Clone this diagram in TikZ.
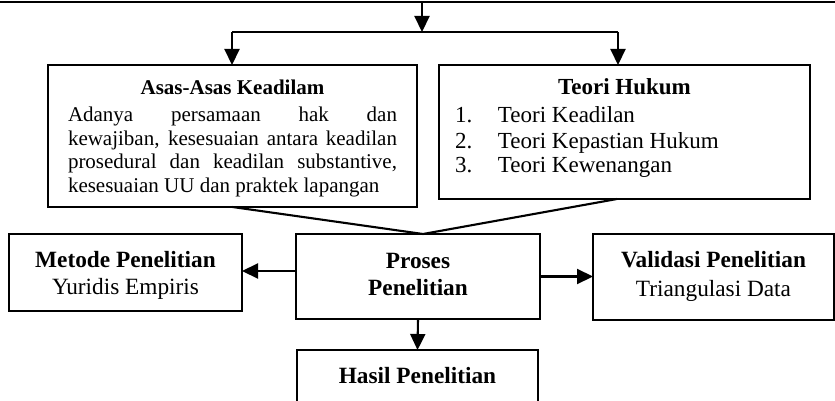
\documentclass[tikz,border=0pt]{standalone}
\usepackage{fontspec}
\setmainfont{Liberation Serif}
\usetikzlibrary{arrows.meta}
\tikzset{
  box/.style={draw, line width=2.1pt, inner sep=0pt, outer sep=0pt, fill=none},
  txt/.style={inner sep=0pt, outer sep=0pt, anchor=base},
  conn/.style={line width=2.1pt},
  arr/.style={line width=2.1pt, -{Triangle[width=15pt,length=16pt]}},
  fa/.style={font=\fontsize{21}{23.5}\selectfont},
  fb/.style={font=\fontsize{23}{25}\selectfont},
  fc/.style={font=\fontsize{23.3}{27}\selectfont}
}
\begin{document}
\begin{tikzpicture}[x=1pt,y=-1pt]
\useasboundingbox (0,0) rectangle (835,401);
\clip (0,0) rectangle (835,401);

% boxes
\node[box, minimum width=369pt, minimum height=142pt] (asas) at (232.5,136) {};
\node[box, minimum width=371pt, minimum height=134pt] (teori) at (624.5,132) {};
\node[box, minimum width=233pt, minimum height=77pt] (metode) at (125.5,272.5) {};
\node[box, minimum width=244pt, minimum height=85pt] (proses) at (418,276.5) {};
\node[box, minimum width=241pt, minimum height=86pt] (validasi) at (713.5,277) {};
\node[box, minimum width=241pt, minimum height=90pt] (hasil) at (417.5,395) {};

% texts
\node[txt, fa] (asasT) at (232.5,95) {\bfseries Asas-Asas Keadilam};
\node[txt, fa, anchor=base west] (asasB) at (68,122) {\parbox[t]{329pt}{%
\makebox[329pt][s]{Adanya persamaan hak dan}\\
\makebox[329pt][s]{kewajiban, kesesuaian antara keadilan}\\
\makebox[329pt][s]{prosedural dan keadilan substantive,}\\
kesesuaian UU dan praktek lapangan}};

\node[txt, fb] (teoriT) at (624.5,95) {\bfseries Teori Hukum};
\node[txt, fb, anchor=base west] (teoriB) at (455,123) {\parbox[t]{330pt}{%
\makebox[43pt][l]{1.}Teori Keadilan\\
\makebox[43pt][l]{2.}Teori Kepastian Hukum\\
\makebox[43pt][l]{3.}Teori Kewenangan}};

\node[txt, fc] (metodeT) at (125.5,267) {\bfseries Metode Penelitian};
\node[txt, fc] (metodeS) at (125.5,294) {Yuridis Empiris};

\node[txt, fc] (prosesT) at (418,268) {\bfseries Proses};
\node[txt, fc] (prosesS) at (418,295) {\bfseries Penelitian};

\node[txt, fc] (validasiT) at (713.5,267) {\bfseries Validasi Penelitian};
\node[txt, fc] (validasiS) at (713.5,296) {Triangulasi Data};

\node[txt, fc] (hasilT) at (417.5,383) {\bfseries Hasil Penelitian};

% connectors
\coordinate (tl) at (0,2);
\coordinate (tr) at (835,2);
\coordinate (top) at (422,2);
\coordinate (split) at (422,32);
\coordinate (sl) at (232,32);
\coordinate (sr) at (618,32);
\draw[conn] (tl) -- (tr);
\draw[arr] (top) -- (split);
\draw[conn] (sl) -- (sr);
\draw[arr] (sl) -- (sl |- asas.north);
\draw[arr] (sr) -- (sr |- teori.north);

\coordinate (meet) at ([xshift=5pt]proses.north);
\draw[conn] (asas.south) -- (meet);
\draw[conn] ([xshift=-7.5pt]teori.south) -- (meet);

\draw[arr] ([yshift=5.5pt]proses.west) -- ([yshift=5.5pt]proses.west -| metode.east);
\draw[arr] (proses.east) -- (proses.east -| validasi.west);
\draw[arr] (proses.south) -- (hasil.north);
\end{tikzpicture}
\end{document}
